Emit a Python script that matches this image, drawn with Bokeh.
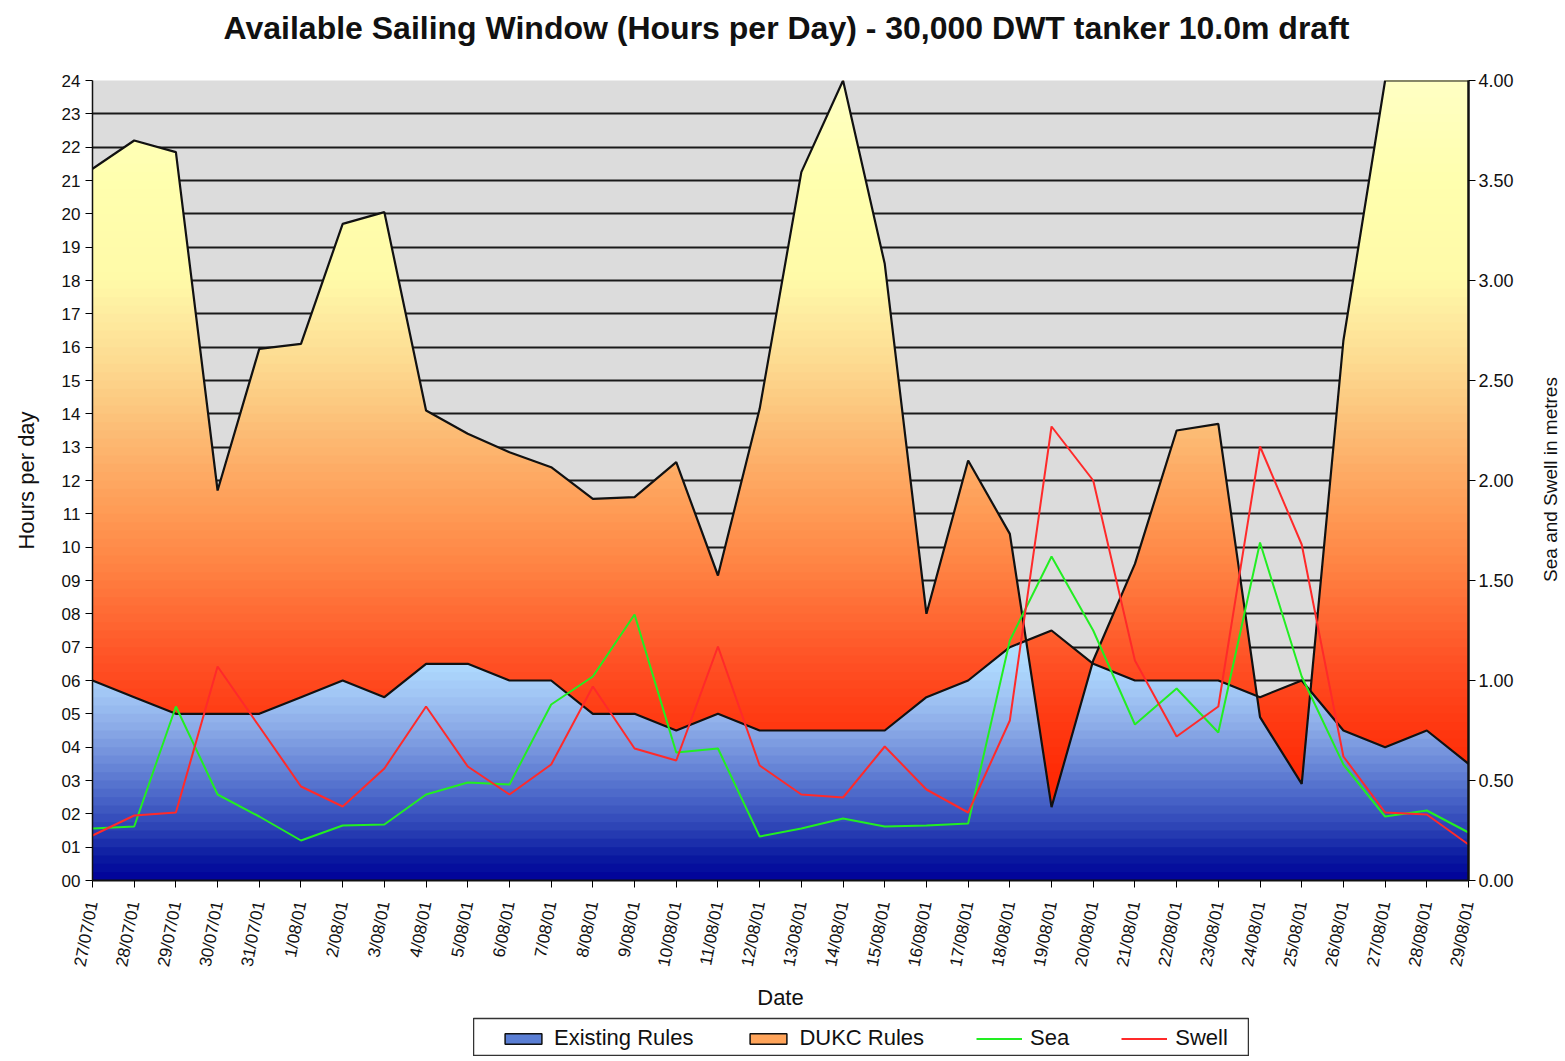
import numpy as np
from bokeh.plotting import figure
from bokeh.layouts import column, row
from bokeh.models import (ColumnDataSource, LinearAxis, Range1d, FixedTicker,
                          NumeralTickFormatter, Legend, LegendItem, Spacer, Label)
from bokeh.embed import file_html
from bokeh.resources import INLINE

# ---------------- data ----------------
dates = ["27/07/01", "28/07/01", "29/07/01", "30/07/01", "31/07/01",
         "1/08/01", "2/08/01", "3/08/01", "4/08/01", "5/08/01", "6/08/01",
         "7/08/01", "8/08/01", "9/08/01", "10/08/01", "11/08/01", "12/08/01",
         "13/08/01", "14/08/01", "15/08/01", "16/08/01", "17/08/01", "18/08/01",
         "19/08/01", "20/08/01", "21/08/01", "22/08/01", "23/08/01", "24/08/01",
         "25/08/01", "26/08/01", "27/08/01", "28/08/01", "29/08/01"]

existing_rules = [6.0, 5.5, 5.0, 5.0, 5.0, 5.5, 6.0, 5.5, 6.5, 6.5,
                  6.0, 6.0, 5.0, 5.0, 4.5, 5.0, 4.5, 4.5, 4.5, 4.5,
                  5.5, 6.0, 7.0, 7.5, 6.5, 6.0, 6.0, 6.0, 5.5, 6.0,
                  4.5, 4.0, 4.5, 3.5]

dukc_rules = [21.35, 22.2, 21.85, 11.7, 15.95, 16.1, 19.7, 20.05, 14.1, 13.4,
              12.85, 12.4, 11.45, 11.5, 12.55, 9.15, 14.15, 21.25, 24.0, 18.5,
              8.0, 12.6, 10.4, 2.2, 6.6, 9.5, 13.5, 13.7, 4.9, 2.9,
              16.2, 24.0, 24.0, 24.0]

sea = [0.26, 0.27, 0.87, 0.43, 0.32, 0.20, 0.275, 0.28, 0.43, 0.49,
       0.48, 0.88, 1.02, 1.33, 0.64, 0.66, 0.22, 0.26, 0.31, 0.27,
       0.275, 0.285, 1.20, 1.62, 1.25, 0.78, 0.96, 0.74, 1.69, 1.02,
       0.58, 0.32, 0.35, 0.24]

swell = [0.225, 0.325, 0.34, 1.07, 0.77, 0.47, 0.37, 0.56, 0.87, 0.57,
         0.43, 0.58, 0.97, 0.66, 0.60, 1.17, 0.575, 0.43, 0.415, 0.67,
         0.455, 0.34, 0.80, 2.27, 2.00, 1.10, 0.72, 0.87, 2.17, 1.68,
         0.62, 0.34, 0.33, 0.18]

hour_ticks = list(range(0, 25))
hour_labels = ["%02d" % h for h in hour_ticks]
metre_ticks = [0.0, 0.5, 1.0, 1.5, 2.0, 2.5, 3.0, 3.5, 4.0]

title_text = "Available Sailing Window (Hours per Day) - 30,000 DWT tanker 10.0m draft"
left_title = "Hours per day"
right_title = "Sea and Swell in metres"
bottom_title = "Date"
legend_labels = ["Existing Rules", "DUKC Rules", "Sea", "Swell"]

# ---------------- styling helpers ----------------
FONT = "Liberation Sans"
INK = "#111111"
WARM_STOPS = [(0, "#ff1200"), (2.5, "#ff2400"), (5, "#ff3c14"), (6.5, "#ff5024"),
              (8, "#ff6a34"), (9.5, "#ff8444"), (11, "#ff9a54"), (12.5, "#fdae68"),
              (14, "#fcc47c"), (15.5, "#fdda90"), (17, "#feeca0"), (18, "#fffaa8"),
              (21, "#ffffae"), (24, "#ffffc4")]
BLUE_STOPS = [(0, "#000099"), (0.7, "#0a1aa0"), (1.5, "#2a40b4"), (2.5, "#4a66c8"),
              (3.5, "#6a88d8"), (4.5, "#89a8e6"), (5.5, "#a0c4f4"), (6.5, "#aedafe"),
              (7.5, "#b4e4ff")]
STEP = 0.25
SEA_COLOR = "#22ee22"
SWELL_COLOR = "#ff2a2a"
EXIST_SWATCH = "#5a7ed4"
DUKC_SWATCH = "#ffa45a"


def colour_at(stops, v):
    vals = [s[0] for s in stops]
    rgb = np.array([[int(c[i:i + 2], 16) for i in (1, 3, 5)] for _, c in stops], float)
    r, g, b = (np.interp(v, vals, rgb[:, k]) for k in range(3))
    return "#%02x%02x%02x" % (int(round(r)), int(round(g)), int(round(b)))


def crossing_x(xv, yv, level):
    out = []
    for i in range(len(xv) - 1):
        a, b = yv[i] - level, yv[i + 1] - level
        if a * b < 0:
            out.append(xv[i] + a / (a - b) * (xv[i + 1] - xv[i]))
    return out


n = len(dates)
xi = np.arange(n, dtype=float)
d = np.array(dukc_rules, float)
e = np.array(existing_rules, float)
de_cross = crossing_x(xi, d - e, 0.0)


def breakpoints(level):
    xs = np.unique(np.concatenate([xi, de_cross,
                                   crossing_x(xi, d, level), crossing_x(xi, e, level)]))
    return xs, np.interp(xs, xi, d), np.interp(xs, xi, e)


def text_strip(width, height):
    f = figure(width=width, height=height, output_backend="svg", toolbar_location=None,
               x_range=Range1d(0, 1), y_range=Range1d(0, 1),
               x_axis_location=None, y_axis_location=None, min_border=0,
               background_fill_color="white", border_fill_color="white")
    f.grid.visible = False
    f.outline_line_color = None
    return f


# ---------------- page geometry ----------------
PAGE_W = 1560
TITLE_H = 55
MAIN_W, MAIN_H = 1535, 961          # main figure spans page y 55..1016
RIGHT_W = PAGE_W - MAIN_W
FL, FR, FT, FB = 92, 1468, 80, 880  # frame edges on the page

# ---------------- title strip ----------------
tfig = text_strip(PAGE_W, TITLE_H)
tfig.add_layout(Label(x=786, y=TITLE_H - 27, x_units="screen", y_units="screen",
                      text=title_text, text_align="center", text_baseline="middle",
                      text_font=FONT, text_font_size="32px", text_font_style="bold",
                      text_color=INK))

# ---------------- main figure ----------------
p = figure(width=MAIN_W, height=MAIN_H, output_backend="svg", toolbar_location=None,
           x_range=Range1d(0, n - 1), y_range=Range1d(0, 24),
           min_border_left=FL, min_border_right=MAIN_W - FR,
           min_border_top=FT - TITLE_H, min_border_bottom=TITLE_H + MAIN_H - FB,
           background_fill_color="#dcdcdc", border_fill_color="white")
p.outline_line_color = None
p.extra_y_ranges = {"metres": Range1d(0, 4)}

p.xgrid.visible = False
p.ygrid.ticker = FixedTicker(ticks=hour_ticks[1:-1])
p.ygrid.grid_line_color = "#1a1a1a"
p.ygrid.grid_line_width = 2

# blue (existing rules) gradient bands: from level up to min(dukc, existing)
level = 0.0
while level < 7.6:
    xs, dg, eg = breakpoints(level)
    top = np.maximum(np.minimum(dg, eg), level)
    if np.any(top > level):
        p.varea(x=xs, y1=np.full(len(xs), level), y2=top,
                fill_color=colour_at(BLUE_STOPS, level + STEP / 2))
    level += STEP

# warm (DUKC rules) gradient bands: between the two lines, clipped from below at level
level = 0.0
while level < 24:
    xs, dg, eg = breakpoints(level)
    lo = np.minimum(dg, eg)
    hi = np.maximum(dg, eg)
    y1 = np.maximum(lo, level)
    y2 = np.maximum(hi, y1)
    if np.any(y2 > y1):
        p.varea(x=xs, y1=y1, y2=y2, fill_color=colour_at(WARM_STOPS, level + STEP / 2))
    level += STEP

src = ColumnDataSource(dict(x=xi, dukc=d, existing=e, sea=sea, swell=swell))
p.line("x", "dukc", source=src, line_color=INK, line_width=2.2)
p.line("x", "existing", source=src, line_color=INK, line_width=2.2)
p.line("x", "sea", source=src, y_range_name="metres", line_color=SEA_COLOR, line_width=2)
p.line("x", "swell", source=src, y_range_name="metres", line_color=SWELL_COLOR, line_width=2)

xa = p.xaxis[0]
xa.ticker = FixedTicker(ticks=list(range(n)))
xa.major_label_overrides = {i: lab for i, lab in enumerate(dates)}
xa.major_label_orientation = 1.38
xa.major_label_text_font = FONT
xa.major_label_text_font_size = "17px"
xa.major_label_text_color = INK
xa.major_label_standoff = 14
xa.axis_label = bottom_title
xa.axis_label_text_font = FONT
xa.axis_label_text_font_size = "22px"
xa.axis_label_text_font_style = "normal"
xa.axis_label_text_color = INK
xa.axis_label_standoff = 12
xa.axis_line_width = 2
xa.axis_line_color = INK
xa.major_tick_out = 7
xa.major_tick_in = 0
xa.minor_tick_line_color = None

ya = p.yaxis[0]
ya.ticker = FixedTicker(ticks=hour_ticks)
ya.major_label_overrides = {h: lab for h, lab in zip(hour_ticks, hour_labels)}
ya.major_label_text_font = FONT
ya.major_label_text_font_size = "17px"
ya.major_label_text_color = INK
ya.major_label_standoff = 5
ya.axis_label = left_title
ya.axis_label_text_font = FONT
ya.axis_label_text_font_size = "22px"
ya.axis_label_text_font_style = "normal"
ya.axis_label_text_color = INK
ya.axis_label_standoff = 20
ya.axis_line_width = 1.5
ya.axis_line_color = INK
ya.major_tick_out = 7
ya.major_tick_in = 0
ya.minor_tick_line_color = None

yr = LinearAxis(y_range_name="metres", ticker=FixedTicker(ticks=metre_ticks),
                formatter=NumeralTickFormatter(format="0.00"))
yr.major_label_text_font = FONT
yr.major_label_text_font_size = "18px"
yr.major_label_text_color = INK
yr.major_label_standoff = 3
yr.axis_line_width = 2.5
yr.axis_line_color = INK
yr.major_tick_out = 7
yr.major_tick_in = 0
yr.minor_tick_line_color = None
p.add_layout(yr, "right")

# ---------------- right-hand axis title strip ----------------
rfig = text_strip(RIGHT_W, MAIN_H)
rfig.add_layout(Label(x=1550 - MAIN_W, y=401,
                      x_units="screen", y_units="screen", text=right_title,
                      angle=np.pi / 2, text_align="center", text_baseline="middle",
                      text_font=FONT, text_font_size="19px", text_color=INK))

# ---------------- legend strip (own small figure, boxed) ----------------
LG_LEFT, LG_W, LG_H = 473, 776, 40
lg = figure(width=LG_W, height=LG_H, output_backend="svg", toolbar_location=None,
            x_range=Range1d(0, 1), y_range=Range1d(0, 1),
            x_axis_location=None, y_axis_location=None,
            min_border_left=0, min_border_right=0, min_border_top=2, min_border_bottom=0,
            background_fill_color="white", border_fill_color="white")
lg.grid.visible = False
lg.outline_line_color = "#333333"
lg.outline_line_width = 1.5

# swatch renderers: one off-screen row each, only their look is used by the legend
off_q = ColumnDataSource(dict(l=[-3.0], r=[-2.0], t=[-2.0], b=[-3.0]))
off_l = ColumnDataSource(dict(x=[-3.0, -2.0], y=[-3.0, -3.0]))
sw_exist = lg.quad(left="l", right="r", top="t", bottom="b", source=off_q,
                   fill_color=EXIST_SWATCH, line_color=INK, line_width=1.5)
sw_dukc = lg.quad(left="l", right="r", top="t", bottom="b", source=off_q,
                  fill_color=DUKC_SWATCH, line_color=INK, line_width=1.5)
sw_sea = lg.line("x", "y", source=off_l, line_color=SEA_COLOR, line_width=2)
sw_swell = lg.line("x", "y", source=off_l, line_color=SWELL_COLOR, line_width=2)

legend = Legend(items=[LegendItem(label=lab, renderers=[r]) for lab, r in
                       zip(legend_labels, [sw_exist, sw_dukc, sw_sea, sw_swell])],
                orientation="horizontal", location=(27, 5),
                label_text_font=FONT, label_text_font_size="22px",
                label_text_color=INK,
                glyph_width=46, glyph_height=13, label_standoff=8, spacing=52,
                padding=0, margin=0, border_line_color=None,
                background_fill_alpha=0)
lg.add_layout(legend)

page = column(tfig, row(p, rfig), row(Spacer(width=LG_LEFT, height=LG_H), lg))

open("out.html", "w").write(file_html(page, INLINE))
